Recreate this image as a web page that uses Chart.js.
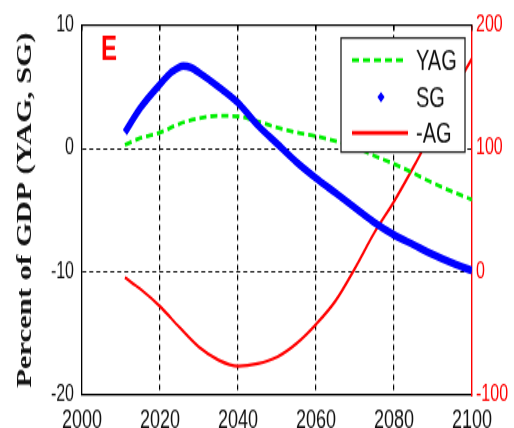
<!DOCTYPE html>
<html>
<head>
<meta charset="utf-8">
<script src="https://cdn.jsdelivr.net/npm/chart.js@4.4.0/dist/chart.umd.min.js"></script>
<style>
  html, body { margin: 0; padding: 0; background: #fff; }
  #chart { display: block; }
</style>
</head>
<body>
<!-- drawn at 514x300 and shown at 514x428, the reference is stretched vertically -->
<canvas id="chart" width="514" height="300" style="width:514px;height:428px"></canvas>
<script>
// ---- data ----
const yagYears  = [2011, 2015, 2020, 2025, 2030, 2035, 2040, 2045, 2050, 2055, 2060, 2065, 2070, 2075, 2080, 2085, 2090, 2095, 2100];
const yagValues = [0.3, 0.85, 1.3, 2.0, 2.45, 2.65, 2.6, 2.2, 1.7, 1.3, 1.0, 0.6, 0.1, -0.6, -1.25, -2.0, -2.8, -3.5, -4.15];

const sgYears  = [2011, 2015, 2020, 2023, 2026, 2028, 2030, 2035, 2040, 2045, 2050, 2055, 2060, 2065, 2070, 2075, 2080, 2085, 2090, 2095, 2100];
const sgValues = [1.3, 3.3, 5.2, 6.2, 6.7, 6.55, 6.15, 5.0, 3.7, 1.9, 0.4, -1.1, -2.4, -3.6, -4.8, -6.0, -7.0, -7.8, -8.6, -9.3, -9.9];

const agYears  = [2011, 2015, 2020, 2025, 2030, 2035, 2040, 2045, 2050, 2055, 2060, 2065, 2070, 2075, 2080, 2085, 2090, 2095, 2100];
const agValues = [-4.6, -14, -28, -45, -61, -71.5, -76.5, -74.5, -69, -58, -42.5, -23.5, 3, 32, 57, 85, 115, 145, 173];

const xTicks = [2000, 2020, 2040, 2060, 2080, 2100];
const leftTicks = [-20, -10, 0, 10];
const rightTicks = [-100, 0, 100, 200];

const seriesNames = ['YAG', 'SG', '-AG'];
const panelLabel = 'E';
const yTitle = 'Percent of GDP (YAG, SG)';

const SANS = '"Liberation Sans", Arial, sans-serif';
const SERIF = '"Liberation Serif", "Times New Roman", serif';

const toPoints = (xs, ys) => xs.map((x, i) => ({ x: x, y: ys[i] }));

// legend box inside the plot, the "E" tag and the top frame
const framePlugin = {
    id: 'framePlugin',
    afterDatasetsDraw(chart) {
        const { ctx, chartArea: a, scales } = chart;
        ctx.save();

        // top border + inward tick marks
        ctx.strokeStyle = '#000';
        ctx.lineWidth = 1.1;
        ctx.beginPath();
        ctx.moveTo(a.left, a.top);
        ctx.lineTo(a.right, a.top);
        xTicks.forEach(v => {
            const x = scales.x.getPixelForValue(v);
            ctx.moveTo(x, a.top);
            ctx.lineTo(x, a.top + 4);
        });
        ctx.stroke();

        // panel tag
        ctx.fillStyle = '#ff0000';
        ctx.font = 'bold 24px ' + SANS;
        ctx.textBaseline = 'alphabetic';
        ctx.fillText(panelLabel, a.left + 19, a.top + 24);

        // legend
        const bx = a.right - 131, by = a.top + 9, bw = 124, bh = 80;
        ctx.fillStyle = '#fff';
        ctx.fillRect(bx, by, bw, bh);
        ctx.strokeStyle = '#222';
        ctx.lineWidth = 1.3;
        ctx.strokeRect(bx, by, bw, bh);

        const rowY = [by + 15.5, by + 41.5, by + 66.5];
        const ds = chart.data.datasets;

        // YAG sample
        ctx.strokeStyle = ds[0].borderColor;
        ctx.lineWidth = ds[0].borderWidth;
        ctx.setLineDash(ds[0].borderDash);
        ctx.beginPath();
        ctx.moveTo(bx + 11, rowY[0]);
        ctx.lineTo(bx + 66, rowY[0]);
        ctx.stroke();
        ctx.setLineDash([]);

        // SG sample (marker)
        const cx = bx + 40, cy = rowY[1], r = 3.6;
        ctx.fillStyle = ds[1].borderColor;
        ctx.beginPath();
        ctx.moveTo(cx, cy - r);
        ctx.lineTo(cx + r, cy);
        ctx.lineTo(cx, cy + r);
        ctx.lineTo(cx - r, cy);
        ctx.closePath();
        ctx.fill();

        // -AG sample
        ctx.strokeStyle = ds[2].borderColor;
        ctx.lineWidth = 2.6;
        ctx.beginPath();
        ctx.moveTo(bx + 11, rowY[2]);
        ctx.lineTo(bx + 67, rowY[2]);
        ctx.stroke();

        ctx.fillStyle = '#111';
        ctx.font = '20px ' + SANS;
        ctx.textBaseline = 'middle';
        seriesNames.forEach((name, i) => ctx.fillText(name, bx + 75, rowY[i] + 1));

        ctx.restore();
    }
};

const gridColor = edgeValues => c =>
    (c.tick && edgeValues.includes(c.tick.value)) ? 'rgba(0,0,0,0)' : '#000';

const ctx = document.getElementById('chart').getContext('2d');
const chart = new Chart(ctx, {
    type: 'line',
    data: {
        datasets: [
            {
                label: seriesNames[0],
                data: toPoints(yagYears, yagValues),
                yAxisID: 'y',
                borderColor: '#00ee00',
                borderWidth: 2.8,
                borderDash: [7, 4],
                pointRadius: 0,
                cubicInterpolationMode: 'monotone',
                order: 2
            },
            {
                label: seriesNames[1],
                data: toPoints(sgYears, sgValues),
                yAxisID: 'y',
                borderColor: '#0000ff',
                borderWidth: 5.5,
                pointRadius: 0,
                cubicInterpolationMode: 'monotone',
                order: 1
            },
            {
                label: seriesNames[2],
                data: toPoints(agYears, agValues),
                yAxisID: 'y2',
                borderColor: '#ff0000',
                borderWidth: 2.2,
                pointRadius: 0,
                cubicInterpolationMode: 'monotone',
                order: 3
            }
        ]
    },
    options: {
        responsive: false,
        devicePixelRatio: 1,
        animation: false,
        layout: { padding: { top: 14, left: 0, right: 0, bottom: 0 } },
        plugins: {
            legend: { display: false },
            tooltip: { enabled: false }
        },
        scales: {
            x: {
                type: 'linear',
                min: 2000,
                max: 2100,
                afterBuildTicks: s => { s.ticks = xTicks.map(v => ({ value: v })); },
                afterFit: s => { s.height = 23; },
                ticks: {
                    color: '#111',
                    padding: 7,
                    maxRotation: 0,
                    font: { family: SANS, size: 18 },
                    callback: v => String(v)
                },
                grid: { color: gridColor([2000, 2100]), lineWidth: 1.2, drawTicks: false },
                border: { display: true, color: '#000', width: 1.3, dash: [4, 3] }
            },
            y: {
                position: 'left',
                min: -20,
                max: 10,
                afterBuildTicks: s => { s.ticks = leftTicks.map(v => ({ value: v })); },
                afterFit: s => { s.width = 82; },
                ticks: {
                    color: '#111',
                    padding: 8,
                    font: { family: SANS, size: 16 }
                },
                grid: { color: gridColor([-20, 10]), lineWidth: 1.1, drawTicks: false },
                border: { display: true, color: '#000', width: 1.3, dash: [4, 3] },
                title: {
                    display: true,
                    text: yTitle,
                    color: '#111',
                    font: { family: SERIF, size: 21.5, weight: 'bold' },
                    padding: { top: 13, bottom: 0 }
                }
            },
            y2: {
                position: 'right',
                min: -100,
                max: 200,
                afterBuildTicks: s => { s.ticks = rightTicks.map(v => ({ value: v })); },
                afterFit: s => { s.width = 42; },
                ticks: {
                    color: '#ff0000',
                    padding: 4,
                    font: { family: SANS, size: 16 }
                },
                grid: { display: false, drawTicks: false },
                border: { display: true, color: '#ff0000', width: 1.4 }
            }
        }
    },
    plugins: [framePlugin]
});
</script>
</body>
</html>
